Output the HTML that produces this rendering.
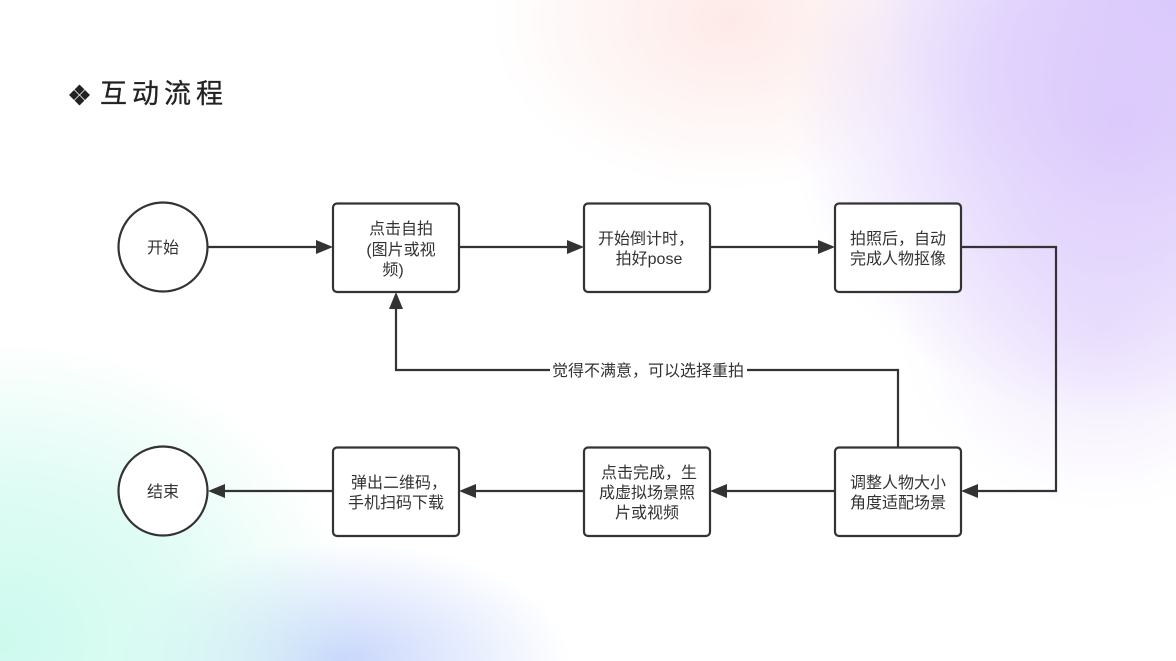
<!DOCTYPE html>
<html>
<head>
<meta charset="utf-8">
<style>
  html, body { margin: 0; padding: 0; }
  body {
    width: 1176px; height: 661px; overflow: hidden; position: relative;
    background: #ffffff;
    font-family: "Liberation Sans", "Noto Sans CJK SC", sans-serif;
  }
  .bg {
    position: absolute; left: 0; top: 0; width: 1176px; height: 661px;
    background:
      radial-gradient(ellipse 330px 300px at 1120px 120px, rgba(218,200,252,0.95) 0%, rgba(218,200,252,0.65) 45%, rgba(218,200,252,0) 100%),
      radial-gradient(ellipse 300px 220px at 1176px 0px, rgba(214,196,252,0.9) 0%, rgba(214,196,252,0) 100%),
      radial-gradient(ellipse 240px 170px at 730px 20px, rgba(253,230,228,0.85) 0%, rgba(253,230,228,0) 100%),
      radial-gradient(ellipse 360px 300px at 0px 640px, rgba(205,250,238,1) 0%, rgba(205,250,238,0.65) 50%, rgba(205,250,238,0) 100%),
      radial-gradient(ellipse 230px 120px at 340px 661px, rgba(200,214,252,1) 0%, rgba(200,214,252,0) 100%),
      radial-gradient(ellipse 200px 180px at 1100px 330px, rgba(236,226,253,0.8) 0%, rgba(236,226,253,0) 100%);
  }
  svg { position: absolute; left: 0; top: 0; }
</style>
</head>
<body>
<div class="bg"></div>
<svg width="1176" height="661" viewBox="0 0 1176 661" xmlns="http://www.w3.org/2000/svg">
  <!-- Title -->
  <g fill="#222">
    <rect x="76" y="86" width="7" height="7" transform="rotate(45 79.5 89.5)"/>
    <rect x="76" y="97" width="7" height="7" transform="rotate(45 79.5 100.5)"/>
    <rect x="70.5" y="91.5" width="7" height="7" transform="rotate(45 74 95)"/>
    <rect x="81.5" y="91.5" width="7" height="7" transform="rotate(45 85 95)"/>
  </g>
  <text x="100" y="103" font-size="27" fill="#222" stroke="#222" stroke-width="0.3" letter-spacing="5" font-family="Liberation Sans, Noto Sans CJK SC, sans-serif">互动流程</text>

  <g stroke="#333" stroke-width="2.2" fill="none">
    <line x1="208" y1="247" x2="318" y2="247"/>
    <line x1="459" y1="247" x2="569" y2="247"/>
    <line x1="710" y1="247" x2="820" y2="247"/>
    <polyline points="961,247 1056,247 1056,491 977,491"/>
    <line x1="835" y1="491" x2="726" y2="491"/>
    <line x1="584" y1="491" x2="475" y2="491"/>
    <line x1="333" y1="491" x2="224" y2="491"/>
    <polyline points="898,447 898,370 396,370 396,308"/>
  </g>
  <g fill="#333">
    <polygon points="333,247 316,240 316,254"/>
    <polygon points="584,247 567,240 567,254"/>
    <polygon points="835,247 818,240 818,254"/>
    <polygon points="961,491 978,484 978,498"/>
    <polygon points="710,491 727,484 727,498"/>
    <polygon points="459,491 476,484 476,498"/>
    <polygon points="208,491 225,484 225,498"/>
    <polygon points="396,292 389,309 403,309"/>
  </g>

  <g stroke="#333" stroke-width="2.2" fill="#fff">
    <circle cx="163" cy="247" r="44.5"/>
    <circle cx="163" cy="491" r="44.5"/>
    <rect x="333" y="203.5" width="126" height="88.5" rx="4"/>
    <rect x="584" y="203.5" width="126" height="88.5" rx="4"/>
    <rect x="835" y="203.5" width="126" height="88.5" rx="4"/>
    <rect x="333" y="447.5" width="126" height="88.5" rx="4"/>
    <rect x="584" y="447.5" width="126" height="88.5" rx="4"/>
    <rect x="835" y="447.5" width="126" height="88.5" rx="4"/>
  </g>

  <rect x="550" y="360" width="197" height="20" fill="#fff"/>

  <g font-size="16" fill="#333" text-anchor="middle" font-family="Liberation Sans, Noto Sans CJK SC, sans-serif">
    <text x="163" y="253">开始</text>
    <text x="163" y="497">结束</text>

    <text x="401" y="234">点击自拍</text>
    <text x="401" y="255">(图片或视</text>
    <text x="393" y="275">频)</text>

    <text x="646" y="244">开始倒计时，</text>
    <text x="649" y="264">拍好pose</text>

    <text x="898" y="244">拍照后，自动</text>
    <text x="898" y="264">完成人物抠像</text>

    <text x="399" y="488">弹出二维码，</text>
    <text x="396" y="508">手机扫码下载</text>

    <text x="649" y="478">点击完成，生</text>
    <text x="647" y="498">成虚拟场景照</text>
    <text x="647" y="518">片或视频</text>

    <text x="898" y="488">调整人物大小</text>
    <text x="898" y="508">角度适配场景</text>

    <text x="648" y="376">觉得不满意，可以选择重拍</text>
  </g>
</svg>
</body>
</html>
